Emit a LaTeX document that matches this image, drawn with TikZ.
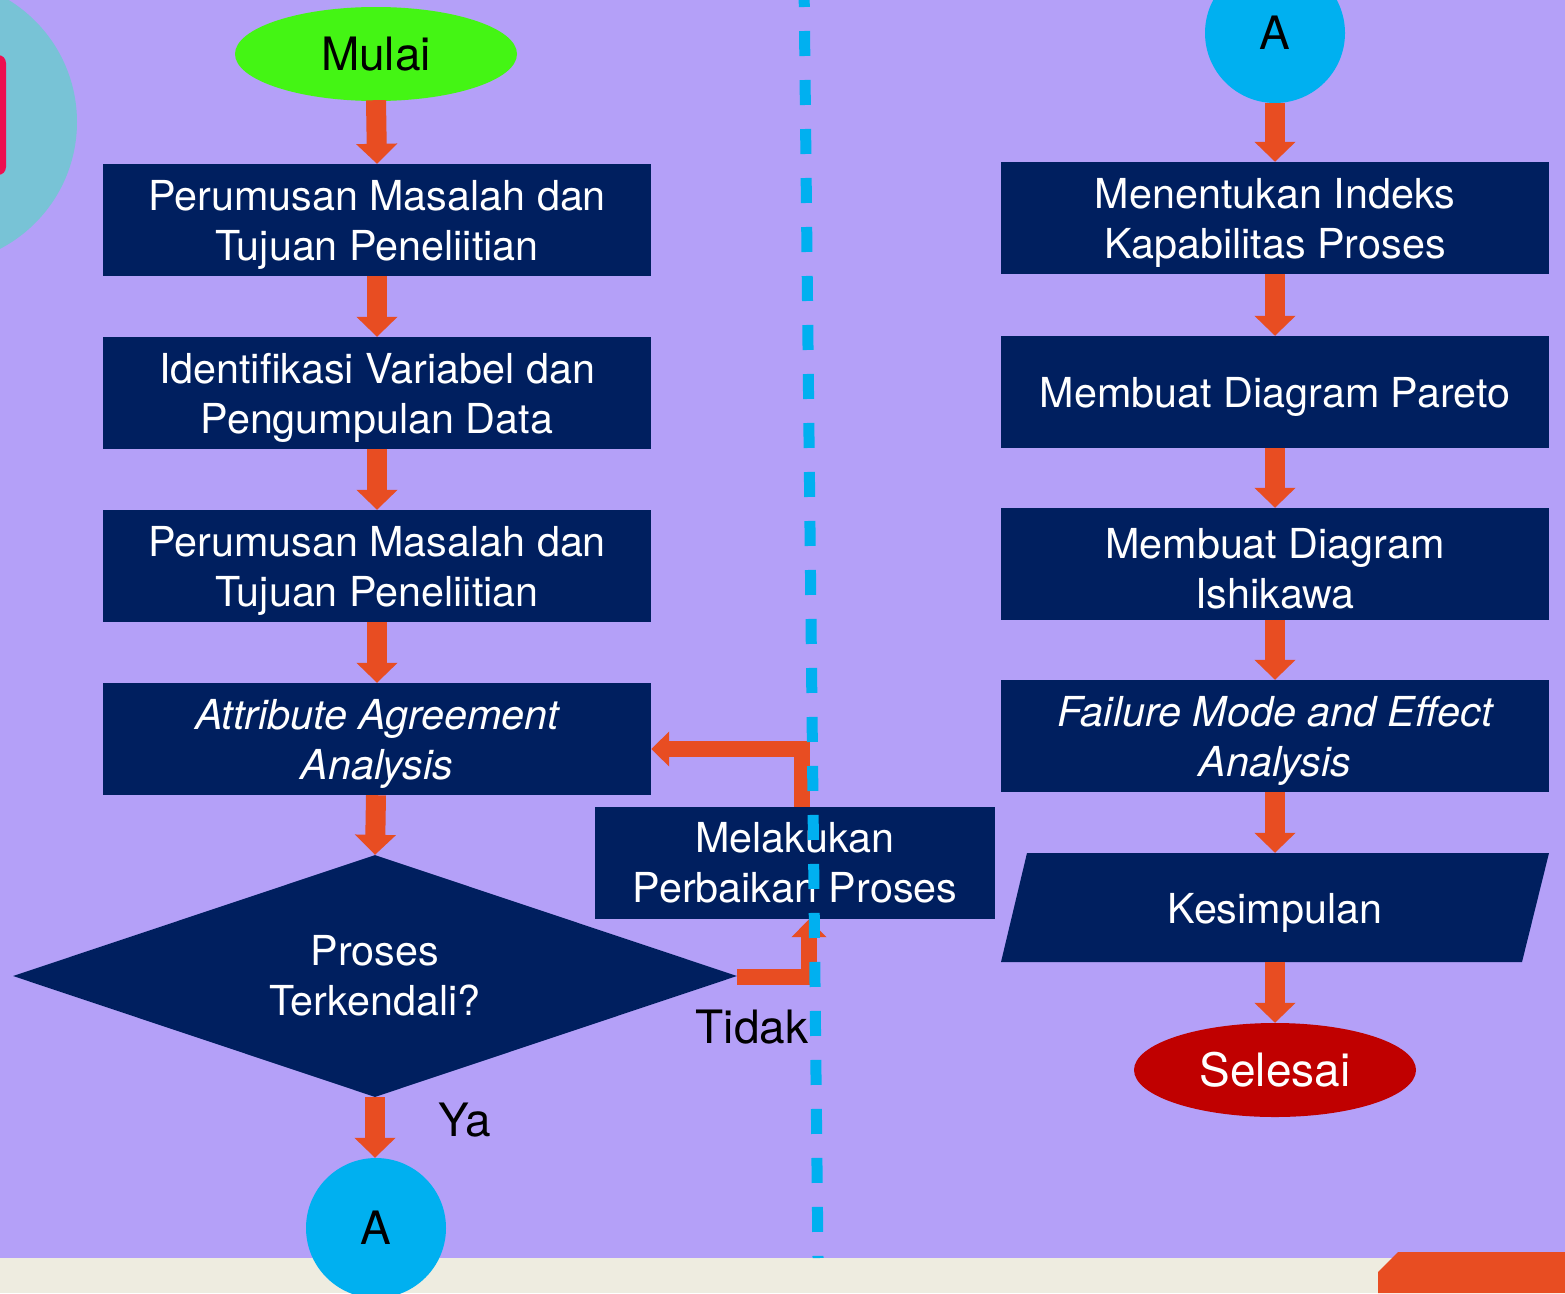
\documentclass[tikz,border=0pt]{standalone}
\usepackage{fontspec}
\setmainfont{TeX Gyre Heros}
\usetikzlibrary{shapes.geometric,arrows.meta}
\definecolor{bgviolet}{HTML}{B4A0F8}
\definecolor{beige}{HTML}{EEECE0}
\definecolor{navy}{HTML}{001F5F}
\definecolor{flowor}{HTML}{E84D22}
\definecolor{skyblue}{HTML}{00B0F0}
\definecolor{startgreen}{HTML}{44F514}
\definecolor{endred}{HTML}{C00000}
\definecolor{tealdeco}{HTML}{78C3D6}
\definecolor{pinkdeco}{HTML}{EE0E50}
\newcommand{\topstrut}{\rule{0pt}{40pt}}
\begin{document}
\begin{tikzpicture}[x=1pt,y=-1pt,
  box/.style={fill=navy, text=white, minimum width=548pt, minimum height=112pt,
    inner sep=0pt, align=center, font=\fontsize{41.3}{50}\selectfont},
  terminal/.style={ellipse, minimum width=282pt, minimum height=94pt, inner sep=0pt,
    font=\fontsize{46}{52}\selectfont},
  connector/.style={circle, fill=skyblue, minimum size=140pt, inner sep=0pt,
    font=\fontsize{46}{52}\selectfont},
  label/.style={inner sep=0pt, font=\fontsize{46}{52}\selectfont},
  flow/.style={draw=flowor, line width=20pt, line cap=butt,
    -{Triangle[width=40pt,length=20pt]}},
  loopflow/.style={draw=flowor, line width=16pt, line cap=butt, line join=miter,
    -{Triangle[width=34pt,length=18pt]}}]
\useasboundingbox (0,0) rectangle (1565,1293);
\clip (0,0) rectangle (1565,1293);

% backdrop
\fill[bgviolet] (0,0) rectangle (1565,1293);
\fill[beige] (0,1258) rectangle (1565,1293);
\fill[tealdeco] (-66,122) circle[radius=143];
\fill[pinkdeco, rounded corners=8pt] (-30,55) rectangle (6,175);
\fill[flowor] (1398,1252) -- (1565,1252) -- (1565,1293) -- (1378,1293) -- (1378,1272) -- cycle;

% left column
\node[terminal, fill=startgreen] (mulai) at (376,54) {Mulai};
\node[box] (l1) at (377,220) {\topstrut Perumusan Masalah dan\\Tujuan Peneliitian};
\node[box] (l2) at (377,393) {\topstrut Identifikasi Variabel dan\\Pengumpulan Data};
\node[box] (l3) at (377,566) {\topstrut Perumusan Masalah dan\\Tujuan Peneliitian};
\node[box] (l4) at (377,739) {\topstrut\itshape Attribute Agreement\\\itshape Analysis};
\node[diamond, aspect=3, fill=navy, text=white, minimum width=724pt, minimum height=242pt,
  inner sep=0pt, align=center, font=\fontsize{41.3}{50}\selectfont] (cek) at (375,976)
  {Proses\\Terkendali?};
\node[connector] (aleft) at (376,1228) {A};
\node[box, minimum width=400pt] (perb) at (795,863) {Melakukan\\Perbaikan Proses};
\node[label] (tidak) at (752,1027) {Tidak};
\node[label] (ya) at (465,1120) {Ya};

% right column
\node[connector] (aright) at (1275,33) {A};
\node[box] (r1) at (1275,218) {\topstrut Menentukan Indeks\\Kapabilitas Proses};
\node[box] (r2) at (1275,392) {\topstrut Membuat Diagram Pareto};
\node[box] (r3) at (1275,564) {\topstrut Membuat Diagram\\Ishikawa};
\node[box] (r4) at (1275,736) {\topstrut\itshape Failure Mode and Effect\\\itshape Analysis};
\fill[navy] (1027,853) -- (1549,853) -- (1522,962) -- (1001,962) -- cycle;
\node[inner sep=0pt, minimum width=521pt, minimum height=109pt, text=white,
  font=\fontsize{41.3}{50}\selectfont] (kes) at (1275,907.5) {\topstrut Kesimpulan};
\node[terminal, fill=endred, text=white] (selesai) at (1275,1070) {Selesai};

% flow arrows
\draw[flow] ([yshift=1pt]mulai.south) -- (l1.north);
\draw[flow] (l1.south) -- (l2.north);
\draw[flow] (l2.south) -- (l3.north);
\draw[flow] (l3.south) -- (l4.north);
\draw[flow] ([xshift=-1pt]l4.south) -- (cek.north);
\draw[flow] (cek.south) -- ([xshift=-1pt]aleft.north);

\draw[flow] (aright.south) -- (r1.north);
\draw[flow] (r1.south) -- (r2.north);
\draw[flow] (r2.south) -- (r3.north);
\draw[flow] (r3.south) -- (r4.north);
\draw[flow] (r4.south) -- (kes.north);
\draw[flow] (kes.south) -- (selesai.north);

% loop back through the correction step
\draw[loopflow] ([yshift=-1pt]cek.east) -| ([xshift=14pt]perb.south);
\draw[loopflow] ([xshift=7pt]perb.north) |- ([yshift=-10pt]l4.east);

% divider
\draw[skyblue, line width=11pt, dash pattern=on 25pt off 24pt] (804,-18) -- (818,1258);
\end{tikzpicture}
\end{document}
